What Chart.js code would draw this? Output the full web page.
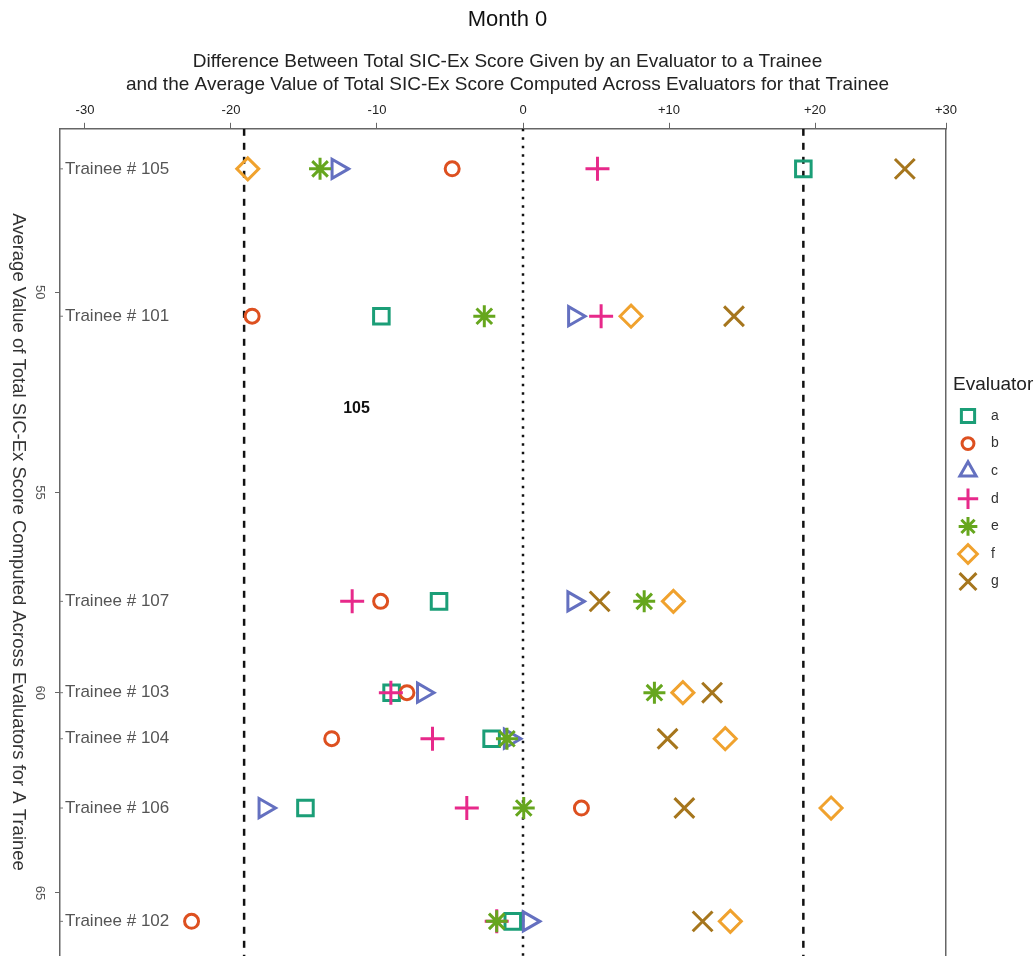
<!DOCTYPE html>
<html>
<head>
<meta charset="utf-8">
<script src="https://cdn.jsdelivr.net/npm/chart.js@4/dist/chart.umd.min.js"></script>
<style>
  html, body { margin: 0; padding: 0; background: #fff; overflow: hidden; }
  canvas { display: block; }
</style>
</head>
<body>
<canvas id="sicexChart" width="1035" height="976"></canvas>
<script>
//=[ Data ]=====================================================================

const trainees = ["Trainee # 105", "Trainee # 101", "Trainee # 107", "Trainee # 103",
  "Trainee # 104", "Trainee # 106", "Trainee # 102"];
const traineeAvg = [46.92, 50.6, 57.72, 60.0, 61.15, 62.88, 65.71];

const evaluators = ["a", "b", "c", "d", "e", "f", "g"];
// difference from the trainee average, same order as trainees
const diffA = [19.2, -9.7, -5.75, -9.0, -2.15, -14.9, -0.7];
const diffB = [-4.85, -18.55, -9.75, -7.95, -13.1, 4.0, -22.7];
const diffC = [-12.7, 3.5, 3.45, -6.85, -0.9, -17.7, 0.4];
const diffD = [5.1, 5.35, -11.7, -9.05, -6.2, -3.85, -1.8];
const diffE = [-13.9, -2.65, 8.3, 9.0, -1.1, 0.05, -1.8];
const diffF = [-18.85, 7.4, 10.3, 10.95, 13.85, 21.1, 14.2];
const diffG = [26.15, 14.45, 5.25, 12.95, 9.9, 11.05, 12.3];

const limitLow = -19.1;
const limitHigh = 19.2;

const xTicks = [-30, -20, -10, 0, 10, 20];
const yTicks = [50, 55, 60, 65];

//=[ Styling ]==================================================================

const X_MIN = -31.71, X_MAX = 28.97;
const Y_MIN = 45.92, Y_MAX = 66.65;
const FONT = "'Liberation Sans', Arial, sans-serif";

const markers = [
  { color: "#1b9e77", style: "rect", radius: 11, rotation: 0 },
  { color: "#dd5020", style: "circle", radius: 7, rotation: 0 },
  { color: "#6470c0", style: "triangle", radius: 11, rotation: 90 },
  { color: "#e7298a", style: "cross", radius: 12, rotation: 0 },
  { color: "#66a61e", style: "star", radius: 11, rotation: 0 },
  { color: "#f0a22e", style: "rectRot", radius: 11, rotation: 0 },
  { color: "#a6761d", style: "crossRot", radius: 14, rotation: 0 },
];

const allDiffs = [diffA, diffB, diffC, diffD, diffE, diffF, diffG];

const evaluatorSets = evaluators.map((name, i) => ({
  label: name,
  data: trainees.map((t, j) => ({ x: allDiffs[i][j], y: traineeAvg[j] })),
  pointStyle: markers[i].style,
  pointRadius: markers[i].radius,
  pointRotation: markers[i].rotation,
  pointBorderWidth: 3,
  borderColor: markers[i].color,
  backgroundColor: "rgba(0,0,0,0)",
  showLine: false,
  order: 10 - i,
}));

const refLine = (x, dash) => ({
  type: "line",
  data: [{ x: x, y: Y_MIN }, { x: x, y: Y_MAX }],
  borderColor: "#111",
  borderWidth: 2.5,
  borderDash: dash,
  pointRadius: 0,
  showLine: true,
  order: 30,
});

//=[ Plugins ]==================================================================

const extrasPlugin = {
  id: "extras",
  afterDraw(chart) {
    const { ctx, chartArea, scales } = chart;
    const y = scales.y;
    ctx.save();

    // y tick labels, rotated clockwise
    ctx.fillStyle = "#555";
    ctx.font = "13px " + FONT;
    ctx.textAlign = "center";
    ctx.textBaseline = "middle";
    yTicks.forEach((v) => {
      ctx.save();
      ctx.translate(chartArea.left - 20, y.getPixelForValue(v));
      ctx.rotate(Math.PI / 2);
      ctx.fillText(String(v), 0, 0);
      ctx.restore();
    });

    // y axis title
    ctx.save();
    ctx.fillStyle = "#333";
    ctx.font = "18.5px " + FONT;
    ctx.translate(18, 542);
    ctx.rotate(Math.PI / 2);
    ctx.fillText("Average Value of Total SIC-Ex Score Computed Across Evaluators for A Trainee", 0, 0);
    ctx.restore();

    // trainee labels inside the plot
    ctx.font = "17px " + FONT;
    ctx.fillStyle = "#555";
    ctx.textAlign = "left";
    ctx.strokeStyle = "#777";
    ctx.lineWidth = 1;
    trainees.forEach((t, j) => {
      const py = y.getPixelForValue(traineeAvg[j]);
      ctx.beginPath();
      ctx.moveTo(chartArea.left, py);
      ctx.lineTo(chartArea.left + 3, py);
      ctx.stroke();
      ctx.fillText(t, chartArea.left + 5, py);
    });

    // annotation
    ctx.font = "bold 16px " + FONT;
    ctx.fillStyle = "#111";
    ctx.textAlign = "center";
    ctx.fillText("105", scales.x.getPixelForValue(-11.4), y.getPixelForValue(52.9));

    // legend
    const lx = chartArea.right + 7;
    ctx.textAlign = "left";
    ctx.font = "19px " + FONT;
    ctx.fillStyle = "#222";
    ctx.fillText("Evaluator", lx, 385);
    ctx.font = "14px " + FONT;
    evaluators.forEach((name, i) => {
      const ly = 416 + i * 27.6;
      ctx.strokeStyle = markers[i].color;
      ctx.fillStyle = "rgba(0,0,0,0)";
      ctx.lineWidth = 3;
      Chart.helpers.drawPoint(ctx, {
        pointStyle: markers[i].style,
        radius: markers[i].radius * 0.85,
        rotation: 0,
        borderWidth: 3,
      }, lx + 15, ly);
      ctx.fillStyle = "#333";
      ctx.fillText(name, lx + 38, ly);
    });

    ctx.restore();
  },
};

//=[ Chart ]====================================================================

new Chart(document.getElementById("sicexChart"), {
  type: "scatter",
  data: {
    datasets: [
      refLine(limitLow, [7, 7]),
      refLine(limitHigh, [7, 7]),
      refLine(0, [2.5, 6]),
      ...evaluatorSets,
    ],
  },
  options: {
    responsive: false,
    animation: false,
    devicePixelRatio: 1,
    layout: { padding: { top: 0, left: 0, bottom: 0, right: 20 } },
    scales: {
      x: {
        type: "linear",
        position: "top",
        min: X_MIN,
        max: X_MAX,
        afterBuildTicks: (scale) => {
          scale.ticks = xTicks.concat([X_MAX]).map((v) => ({ value: v }));
        },
        afterFit: (scale) => { scale.height = 32.8; },
        ticks: {
          color: "#222",
          font: { family: FONT, size: 13 },
          padding: 5,
          callback: (v) => {
            if (v === X_MAX) return "+30";
            return v > 0 ? "+" + v : String(v);
          },
        },
        grid: { drawOnChartArea: false, drawTicks: true, tickLength: 6, color: "#666" },
        border: { display: true, color: "#666", width: 1.5 },
      },
      y: {
        type: "linear",
        position: "left",
        reverse: true,
        min: Y_MIN,
        max: Y_MAX,
        afterBuildTicks: (scale) => {
          scale.ticks = yTicks.map((v) => ({ value: v }));
        },
        afterFit: (scale) => { scale.width = 60; },
        ticks: { display: false },
        grid: { drawOnChartArea: false, drawTicks: true, tickLength: 5, color: "#666" },
        border: { display: true, color: "#666", width: 1.5 },
      },
      yRight: {
        type: "linear",
        position: "right",
        min: Y_MIN,
        max: Y_MAX,
        afterFit: (scale) => { scale.width = 69; },
        ticks: { display: false },
        grid: { display: false },
        border: { display: true, color: "#666", width: 1.5 },
      },
    },
    plugins: {
      legend: { display: false },
      tooltip: { enabled: false },
      title: {
        display: true,
        text: "Month 0",
        color: "#111",
        font: { family: FONT, size: 22, weight: "normal", lineHeight: 1.2 },
        padding: { top: 7, bottom: 0 },
      },
      subtitle: {
        display: true,
        text: [
          "Difference Between Total SIC-Ex Score Given by an Evaluator to a Trainee",
          "and the Average Value of Total SIC-Ex Score Computed Across Evaluators for that Trainee",
        ],
        color: "#222",
        font: { family: FONT, size: 19, lineHeight: 1.2 },
        padding: { top: 17, bottom: 0 },
      },
    },
  },
  plugins: [extrasPlugin],
});
</script>
</body>
</html>
